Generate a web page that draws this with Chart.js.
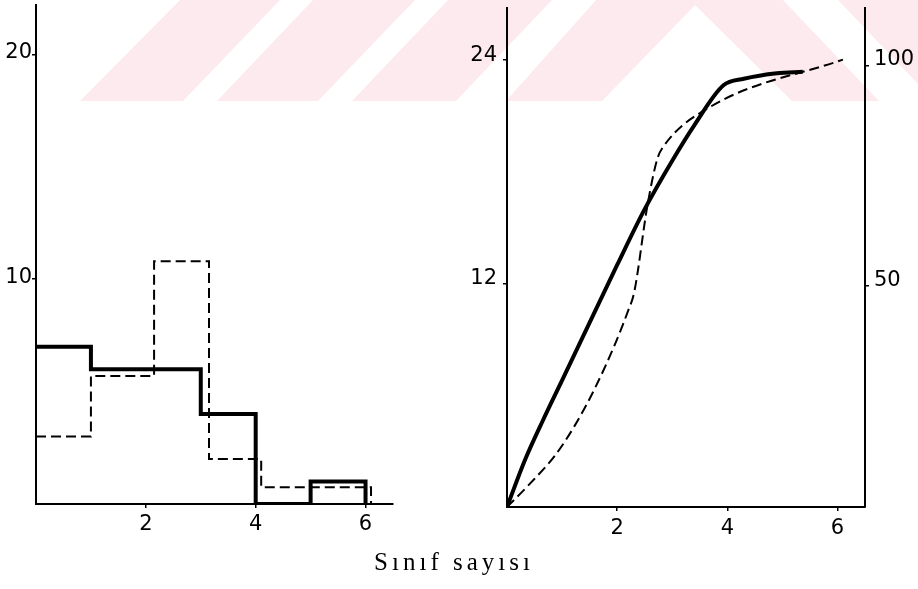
<!DOCTYPE html>
<html><head><meta charset="utf-8">
<script src="https://cdn.jsdelivr.net/npm/chart.js@4.4.1/dist/chart.umd.min.js"></script>
<style>
html,body{margin:0;padding:0;background:#fff;}
#wrap{position:relative;width:918px;height:589px;overflow:hidden;}
#c1{position:absolute;left:0;top:0;}
#c2{position:absolute;left:459px;top:0;}
</style></head><body>
<div id="wrap"><canvas id="c1" width="918" height="589"></canvas><canvas id="c2" width="459" height="589"></canvas></div>
<script>
// ---- data ----
const binEdges = [0, 1, 2, 3, 4, 5, 6];
const solidCounts = [7, 6, 6, 4, 0, 1];
const dashedEdges = [0, 1, 2.15, 3.15, 4.1, 6.1];
const dashedCounts = [3, 5.7, 10.8, 2, 0.75];
const leftYTicks = [10, 20];
const xTicks = [2, 4, 6];

const solidCumX = [0, 0.33, 0.66, 1.0, 1.5, 2.0, 2.5, 3.0, 3.4, 3.93, 4.3, 4.9, 5.37];
const solidCumY = [0, 2.55, 4.7, 6.8, 9.9, 13.0, 16.0, 18.6, 20.5, 22.65, 23.0, 23.3, 23.37];
const dashedCumX = [0, 0.4, 0.87, 1.23, 1.59, 1.95, 2.19, 2.31, 2.55, 2.73, 2.85, 3.69, 6.1];
const dashedCumY = [0, 1.2, 2.76, 4.37, 6.34, 8.67, 10.47, 11.54, 16.2, 18.7, 19.4, 21.49, 24.03];
const rightYTicks = [12, 24];
const pctTicks = [50, 100];
const xTitle = 'Sınıf sayısı';

// ---- helpers ----
function stepPoints(edges, counts) {
  const pts = counts.map((c, i) => ({x: edges[i], y: c}));
  const n = counts.length;
  pts.push({x: edges[n], y: counts[n - 1]});
  pts.push({x: edges[n], y: 0});
  return pts;
}
function xy(xs, ys) { return xs.map((x, i) => ({x: x, y: ys[i]})); }
function fixTicks(list) { return s => { s.ticks = list.map(v => ({value: v})); }; }
function fitTo(prop, size) {
  return s => {
    s[prop] = size;
    s.paddingTop = 0; s.paddingBottom = 0; s.paddingLeft = 0; s.paddingRight = 0;
  };
}

Chart.defaults.font.family = 'DejaVu Sans';
Chart.defaults.color = '#000';

const tickFont = {family: 'DejaVu Sans', size: 21};
function axis(extra, tickExtra) {
  return Object.assign({
    type: 'linear',
    grid: {drawOnChartArea: false, color: '#000', lineWidth: 1.5, tickLength: 4},
    border: {color: '#000', width: 2},
    ticks: Object.assign({color: '#000', font: tickFont, autoSkip: false, maxRotation: 0}, tickExtra)
  }, extra);
}

// watermark + caption plugin (decoration only)
const decor = {
  id: 'decor',
  beforeDraw(chart) {
    const ctx = chart.ctx;
    ctx.save();
    ctx.fillStyle = '#fdeaee';
    const polys = [
      [[80,101],[183,101],[280,0],[180,0]],
      [[217,101],[318,101],[415,0],[313,0]],
      [[352,101],[456,101],[552,0],[448,0]],
      [[506,101],[602,101],[700,0],[596,0]],
      [[695,5],[792,101],[879,101],[783,0],[700,0]],
      [[838,0],[918,0],[918,84]]
    ];
    polys.forEach(p => {
      ctx.beginPath();
      p.forEach((pt, i) => i ? ctx.lineTo(pt[0], pt[1]) : ctx.moveTo(pt[0], pt[1]));
      ctx.closePath();
      ctx.fill();
    });
    ctx.restore();
  },
  afterDraw(chart) {
    const ctx = chart.ctx;
    ctx.save();
    ctx.fillStyle = '#000';
    ctx.font = '25px "Liberation Serif"';
    ctx.textAlign = 'center';
    ctx.textBaseline = 'alphabetic';
    try { ctx.letterSpacing = '4px'; } catch (e) {}
    ctx.fillText(xTitle, 454, 570);
    ctx.restore();
  }
};

new Chart(document.getElementById('c1'), {
  type: 'line',
  data: {
    datasets: [
      {data: stepPoints(binEdges, solidCounts), stepped: true, borderColor: '#000', borderWidth: 4,
       pointRadius: 0, fill: false, borderJoinStyle: 'miter', borderCapStyle: 'butt'},
      {data: stepPoints(dashedEdges, dashedCounts), stepped: true, borderColor: '#000', borderWidth: 2,
       borderDash: [10, 5], pointRadius: 0, fill: false, borderJoinStyle: 'miter'}
    ]
  },
  options: {
    responsive: false, animation: false, devicePixelRatio: 1,
    layout: {padding: {top: 5, right: 525, bottom: 0, left: 0}},
    plugins: {legend: {display: false}, tooltip: {enabled: false}},
    scales: {
      x: axis({min: 0, max: 6.5, afterBuildTicks: fixTicks(xTicks), afterFit: fitTo('height', 85)},
              {padding: 4}),
      y: axis({min: 0, max: 22.2, afterBuildTicks: fixTicks(leftYTicks), afterFit: fitTo('width', 36)},
              {padding: 0, labelOffset: -2})
    }
  },
  plugins: [decor]
});

new Chart(document.getElementById('c2'), {
  type: 'line',
  data: {
    datasets: [
      {data: xy(solidCumX, solidCumY), borderColor: '#000', borderWidth: 4, pointRadius: 0,
       cubicInterpolationMode: 'monotone', fill: false, yAxisID: 'y'},
      {data: xy(dashedCumX, dashedCumY), borderColor: '#000', borderWidth: 2, borderDash: [10, 5],
       pointRadius: 0, cubicInterpolationMode: 'monotone', fill: false, yAxisID: 'y'}
    ]
  },
  options: {
    responsive: false, animation: false, devicePixelRatio: 1,
    layout: {padding: {top: 8, right: 0, bottom: 0, left: 0}},
    plugins: {legend: {display: false}, tooltip: {enabled: false}},
    scales: {
      x: axis({min: 0, max: 6.5, afterBuildTicks: fixTicks(xTicks), afterFit: fitTo('height', 82)},
              {padding: 5}),
      y: axis({position: 'left', min: 0, max: 26.8, afterBuildTicks: fixTicks(rightYTicks), afterFit: fitTo('width', 48)},
              {padding: 6, labelOffset: -5}),
      y2: axis({position: 'right', min: 0, max: 113, afterBuildTicks: fixTicks(pctTicks), afterFit: fitTo('width', 53)},
               {padding: 5, labelOffset: -6})
    }
  }
});
</script>
</body></html>
